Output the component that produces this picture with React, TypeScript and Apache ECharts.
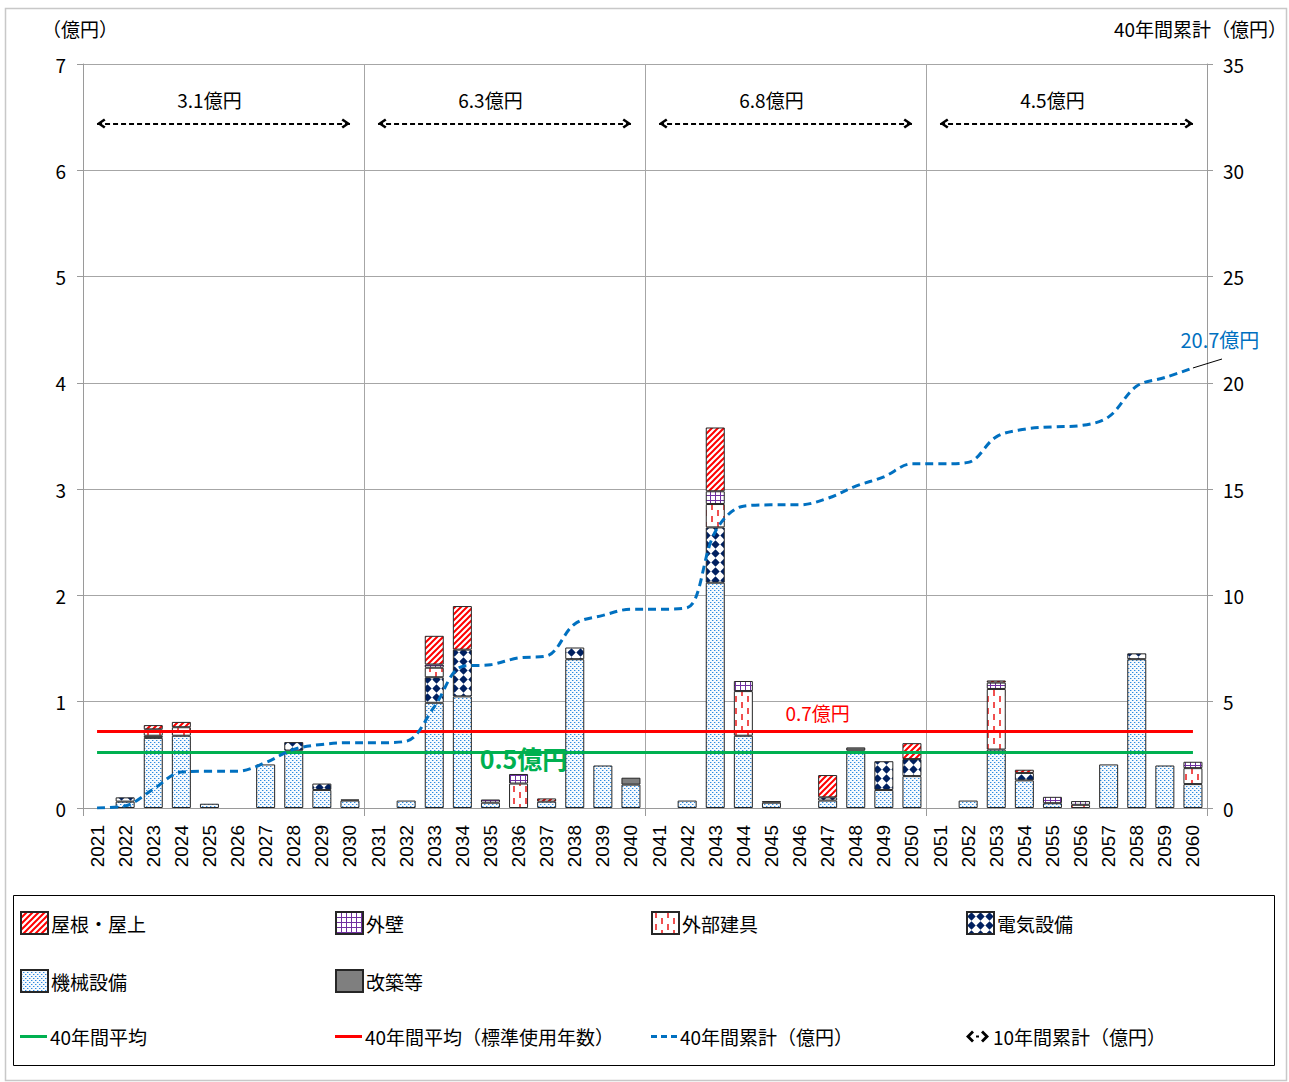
import React, { useEffect, useRef } from 'react';
import * as echarts from 'echarts';

const years = [
  '2021','2022','2023','2024','2025','2026','2027','2028','2029','2030',
  '2031','2032','2033','2034','2035','2036','2037','2038','2039','2040',
  '2041','2042','2043','2044','2045','2046','2047','2048','2049','2050',
  '2051','2052','2053','2054','2055','2056','2057','2058','2059','2060',
];

// 機械設備
const mech = [
  0, 0.06, 0.66, 0.68, 0.04, 0, 0.41, 0.54, 0.17, 0.07,
  0, 0.07, 0.99, 1.05, 0.05, 0, 0.06, 1.40, 0.40, 0.22,
  0, 0.07, 2.12, 0.68, 0.05, 0, 0.07, 0.54, 0.17, 0.30,
  0, 0.07, 0.55, 0.26, 0.045, 0, 0.41, 1.40, 0.40, 0.225,
];
// 改築等
const kaichiku = [
  0, 0, 0.02, 0, 0, 0, 0, 0, 0, 0.01,
  0, 0, 0, 0, 0, 0, 0, 0, 0, 0.065,
  0, 0, 0, 0, 0.015, 0, 0, 0.03, 0, 0,
  0, 0, 0, 0, 0, 0, 0, 0, 0, 0,
];
// 電気設備
const elec = [
  0, 0.04, 0, 0, 0, 0, 0, 0.08, 0.06, 0,
  0, 0, 0.24, 0.44, 0, 0, 0, 0.11, 0, 0,
  0, 0, 0.52, 0, 0, 0, 0.03, 0, 0.27, 0.16,
  0, 0, 0, 0.07, 0, 0, 0, 0.055, 0, 0,
];
// 外部建具
const ext = [
  0, 0, 0.04, 0.08, 0, 0, 0, 0, 0, 0,
  0, 0, 0.09, 0, 0, 0.23, 0, 0, 0, 0,
  0, 0, 0.22, 0.42, 0, 0, 0, 0, 0, 0,
  0, 0, 0.57, 0, 0, 0.03, 0, 0, 0, 0.15,
];
// 外壁
const wall = [
  0, 0, 0.02, 0, 0, 0, 0, 0, 0, 0,
  0, 0, 0.03, 0, 0.03, 0.09, 0, 0, 0, 0,
  0, 0, 0.12, 0.095, 0, 0, 0, 0, 0, 0,
  0, 0, 0.06, 0, 0.06, 0.035, 0, 0, 0, 0.06,
];
// 屋根・屋上
const roof = [
  0, 0, 0.04, 0.05, 0, 0, 0, 0, 0, 0,
  0, 0, 0.27, 0.41, 0, 0, 0.03, 0, 0, 0,
  0, 0, 0.60, 0, 0, 0, 0.21, 0, 0, 0.15,
  0, 0, 0.02, 0.03, 0, 0, 0, 0, 0, 0,
];
// 40年間累計（億円）
const cumulative = [
  0, 0.1, 0.88, 1.69, 1.73, 1.73, 2.14, 2.76, 2.99, 3.07,
  3.07, 3.14, 4.76, 6.66, 6.74, 7.06, 7.15, 8.66, 9.06, 9.35,
  9.35, 9.42, 13.0, 14.2, 14.26, 14.26, 14.57, 15.14, 15.58, 16.19,
  16.19, 16.26, 17.46, 17.82, 17.93, 17.99, 18.40, 19.85, 20.25, 20.7,
];

const avg40 = 0.52;
const avgStd = 0.72;
const decadeTotals = [3.1, 6.3, 6.8, 4.5];
const decadeStart = ['2021', '2031', '2041', '2051'];
const decadeEnd = ['2030', '2040', '2050', '2060'];
const decadeLabelAt = ['2025', '2035', '2045', '2055'];
const arrowLevel = 6.44;
const decadeLabelLevel = 6.67;

const leftMax = 7;
const leftStep = 1;
const rightMax = 35;
const rightStep = 5;

const CJK = '"Noto Sans CJK JP", "Noto Sans CJK SC", sans-serif';

function makePattern(w: number, h: number, draw: (ctx: CanvasRenderingContext2D) => void) {
  const c = document.createElement('canvas');
  c.width = w;
  c.height = h;
  const ctx = c.getContext('2d') as CanvasRenderingContext2D;
  ctx.fillStyle = '#ffffff';
  ctx.fillRect(0, 0, w, h);
  draw(ctx);
  return { image: c, repeat: 'repeat' } as any;
}

function buildPatterns() {
  const roofP = makePattern(6, 6, (ctx) => {
    ctx.strokeStyle = '#FF0000';
    ctx.lineWidth = 2;
    ctx.beginPath();
    ctx.moveTo(-1, 7); ctx.lineTo(7, -1);
    ctx.moveTo(-4, 4); ctx.lineTo(4, -4);
    ctx.moveTo(2, 10); ctx.lineTo(10, 2);
    ctx.stroke();
  });
  const wallP = makePattern(5, 5, (ctx) => {
    ctx.fillStyle = '#7030A0';
    ctx.fillRect(0, 0, 5, 1);
    ctx.fillRect(0, 0, 1, 5);
  });
  const extP = makePattern(12, 12, (ctx) => {
    ctx.fillStyle = '#F05050';
    ctx.fillRect(3, 0, 2, 6);
    ctx.fillRect(9, 6, 2, 6);
  });
  const elecP = makePattern(9, 9, (ctx) => {
    ctx.fillStyle = '#002060';
    ctx.beginPath();
    ctx.moveTo(4.5, 0.3);
    ctx.lineTo(8.7, 4.5);
    ctx.lineTo(4.5, 8.7);
    ctx.lineTo(0.3, 4.5);
    ctx.closePath();
    ctx.fill();
  });
  const mechP = makePattern(4, 4, (ctx) => {
    ctx.fillStyle = '#F6FAFE';
    ctx.fillRect(0, 0, 4, 4);
    ctx.fillStyle = '#2E8BE0';
    ctx.fillRect(0, 0, 1, 1);
    ctx.fillRect(2, 2, 1, 1);
    ctx.fillStyle = '#A9CDF0';
    ctx.fillRect(1, 0, 1, 1);
    ctx.fillRect(3, 2, 1, 1);
  });
  return { roofP, wallP, extP, elecP, mechP };
}

const nz = (arr: number[]) => arr.map((v) => (v > 0 ? v : null));

const chevron = 'path://M5,8 L10,15 L8,16.5 L5,12 L2,16.5 L0,15 Z M5,0 L5.01,0 L5,0.01 Z';
const legendArrow =
  'path://M0,6 L6,0 L8,2 L4,6 L8,10 L6,12 Z M10,5 L13,5 L13,7 L10,7 Z M23,6 L17,12 L15,10 L19,6 L15,2 L17,0 Z';
const legendSolid = 'path://M0,0 L27,0 L27,3 L0,3 Z';
const legendDashed = 'path://M0,0 L6,0 L6,3 L0,3 Z M10,0 L16,0 L16,3 L10,3 Z M20,0 L26,0 L26,3 L20,3 Z';

export default function App() {
  const ref = useRef<HTMLDivElement>(null);

  useEffect(() => {
    if (!ref.current) return;
    const chart = echarts.init(ref.current, null, { renderer: 'svg' });
    const P = buildPatterns();
    const barBase = {
      type: 'bar',
      stack: 'total',
      barWidth: 19,
      z: 2,
    };
    const border = { borderColor: '#262626', borderWidth: 1 };

    const bars = [
      { name: '機械設備', data: nz(mech), color: P.mechP },
      { name: '改築等', data: nz(kaichiku), color: '#7F7F7F' },
      { name: '電気設備', data: nz(elec), color: P.elecP },
      { name: '外部建具', data: nz(ext), color: P.extP },
      { name: '外壁', data: nz(wall), color: P.wallP },
      { name: '屋根・屋上', data: nz(roof), color: P.roofP },
    ].map((s) => ({
      ...barBase,
      name: s.name,
      data: s.data,
      itemStyle: { color: s.color, ...border },
    }));

    const hiddenMarker = { symbol: 'rect', symbolSize: 1, itemStyle: { color: 'rgba(0,0,0,0)' } };

    const legendItems: [string, number, number, number, number, string][] = [
      ['屋根・屋上', 20, 911, 27, 22, 'rect'],
      ['外壁', 335, 911, 27, 22, 'rect'],
      ['外部建具', 651, 911, 27, 22, 'rect'],
      ['電気設備', 966, 911, 27, 22, 'rect'],
      ['機械設備', 20, 969, 27, 22, 'rect'],
      ['改築等', 335, 969, 27, 22, 'rect'],
      ['40年間平均', 20, 1027, 27, 3, legendSolid],
      ['40年間平均（標準使用年数）', 335, 1027, 27, 3, legendSolid],
      ['40年間累計（億円）', 651, 1027, 26, 3, legendDashed],
      ['10年間累計（億円）', 966, 1027, 25, 12, legendArrow],
    ];

    const option: any = {
      animation: false,
      backgroundColor: '#ffffff',
      textStyle: { fontFamily: CJK },
      grid: { left: 83, right: 82, top: 64, bottom: 274, containLabel: false },
      legend: legendItems.map(([name, left, top, w, h, icon]) => ({
        data: [{ name, icon }],
        left,
        top,
        padding: 0,
        itemWidth: w,
        itemHeight: h,
        itemGap: 0,
        selectedMode: false,
        textStyle: { fontSize: 19, color: '#000', fontFamily: CJK, padding: [0, 0, 0, -2] },
      })),
      xAxis: {
        type: 'category',
        data: years,
        boundaryGap: true,
        axisLine: { show: true, lineStyle: { color: '#9A9A9A', width: 1 } },
        axisTick: {
          show: true,
          interval: (i: number) => i % 10 === 0,
          length: 8,
          lineStyle: { color: '#9A9A9A' },
        },
        splitLine: {
          show: true,
          interval: (i: number) => i % 10 === 0,
          lineStyle: { color: '#A6A6A6', width: 1 },
        },
        axisLabel: {
          rotate: 90,
          interval: 0,
          fontSize: 19,
          fontFamily: '"Liberation Sans", Arial, sans-serif',
          color: '#000',
          margin: 17,
        },
      },
      yAxis: [
        {
          type: 'value',
          min: 0,
          max: leftMax,
          interval: leftStep,
          axisLine: { show: true, lineStyle: { color: '#9A9A9A' } },
          axisTick: { show: true, length: 6, lineStyle: { color: '#9A9A9A' } },
          splitLine: { show: true, lineStyle: { color: '#A6A6A6', width: 1 } },
          axisLabel: { fontSize: 19, color: '#000', margin: 17, fontFamily: CJK },
        },
        {
          type: 'value',
          position: 'right',
          min: 0,
          max: rightMax,
          interval: rightStep,
          axisLine: { show: true, lineStyle: { color: '#9A9A9A' } },
          axisTick: { show: true, length: 6, lineStyle: { color: '#9A9A9A' } },
          splitLine: { show: false },
          axisLabel: { fontSize: 19, color: '#000', margin: 16, fontFamily: CJK },
        },
      ],
      series: [
        ...bars,
        {
          name: '40年間平均',
          type: 'line',
          data: [],
          symbol: 'none',
          z: 4,
          itemStyle: { color: '#00B050' },
          lineStyle: { color: '#00B050', width: 3 },
          markLine: {
            silent: true,
            symbol: ['none', 'none'],
            label: { show: false },
            lineStyle: { color: '#00B050', width: 3, type: 'solid' },
            data: [[{ coord: [years[0], avg40] }, { coord: [years[years.length - 1], avg40] }]],
          },
          markPoint: {
            ...hiddenMarker,
            label: {
              show: true,
              position: 'inside',
              offset: [5, 5],
              fontSize: 25,
              fontWeight: 'bold',
              color: '#00B050',
              fontFamily: CJK,
              formatter: '0.5億円',
            },
            data: [{ coord: ['2036', avg40] }],
          },
        },
        {
          name: '40年間平均（標準使用年数）',
          type: 'line',
          data: [],
          symbol: 'none',
          z: 4,
          itemStyle: { color: '#FF0000' },
          lineStyle: { color: '#FF0000', width: 3 },
          markLine: {
            silent: true,
            symbol: ['none', 'none'],
            label: { show: false },
            lineStyle: { color: '#FF0000', width: 3, type: 'solid' },
            data: [[{ coord: [years[0], avgStd] }, { coord: [years[years.length - 1], avgStd] }]],
          },
          markPoint: {
            ...hiddenMarker,
            label: {
              show: true,
              position: 'inside',
              offset: [-10, -19],
              fontSize: 19,
              color: '#FF0000',
              fontFamily: CJK,
              formatter: '0.7億円',
            },
            data: [{ coord: ['2047', avgStd] }],
          },
        },
        {
          name: '40年間累計（億円）',
          type: 'line',
          yAxisIndex: 1,
          data: cumulative,
          smooth: 0.35,
          symbol: 'none',
          z: 5,
          itemStyle: { color: '#0070C0' },
          lineStyle: { color: '#0070C0', width: 3, type: [8, 5] },
          markPoint: {
            ...hiddenMarker,
            label: {
              show: true,
              position: 'inside',
              offset: [27, -28],
              fontSize: 20,
              color: '#0070C0',
              fontFamily: CJK,
              formatter: (p: any) => p.value + '億円',
            },
            data: [{ coord: [years[years.length - 1], cumulative[cumulative.length - 1]], value: cumulative[cumulative.length - 1] }],
          },
          markLine: {
            silent: true,
            symbol: ['none', 'none'],
            label: { show: false },
            lineStyle: { color: '#000', width: 1, type: 'solid' },
            data: [[{ coord: [years[years.length - 1], cumulative[cumulative.length - 1]] }, { x: 1222, y: 359 }]],
          },
        },
        {
          name: '10年間累計（億円）',
          type: 'line',
          data: [],
          symbol: 'none',
          z: 4,
          itemStyle: { color: '#000' },
          lineStyle: { color: '#000', width: 2 },
          markLine: {
            silent: true,
            symbol: [chevron, chevron],
            symbolSize: [10, 17],
            label: { show: false },
            lineStyle: { color: '#000', width: 2, type: [5, 3] },
            data: decadeStart.map((s, i) => [
              { coord: [s, arrowLevel] },
              { coord: [decadeEnd[i], arrowLevel] },
            ]),
          },
          markPoint: {
            ...hiddenMarker,
            label: {
              show: true,
              position: 'inside',
              fontSize: 19,
              color: '#000',
              fontFamily: CJK,
              formatter: (p: any) => p.value + '億円',
            },
            data: decadeTotals.map((v, i) => ({ coord: [decadeLabelAt[i], decadeLabelLevel], value: v })),
          },
        },
      ],
      graphic: [
        {
          type: 'rect',
          silent: true,
          z: -10,
          shape: { x: 5.5, y: 8.5, width: 1281, height: 1072 },
          style: { fill: 'none', stroke: '#C8C8C8', lineWidth: 1.5 },
        },
        {
          type: 'rect',
          silent: true,
          shape: { x: 13.5, y: 895.5, width: 1261, height: 170 },
          style: { fill: 'none', stroke: '#000', lineWidth: 1 },
        },
        {
          type: 'text',
          x: 80,
          y: 28,
          style: { text: '（億円）', fontSize: 19, fontFamily: CJK, fill: '#000', align: 'center', verticalAlign: 'middle' },
        },
        {
          type: 'text',
          x: 1287,
          y: 28,
          style: { text: '40年間累計（億円）', fontSize: 19, fontFamily: CJK, fill: '#000', align: 'right', verticalAlign: 'middle' },
        },
      ],
    };

    chart.setOption(option);
    return () => chart.dispose();
  }, []);

  return (
    <div
      ref={ref}
      style={{ position: 'absolute', left: 0, top: 0, width: 1289, height: 1082, background: '#fff' }}
    />
  );
}
